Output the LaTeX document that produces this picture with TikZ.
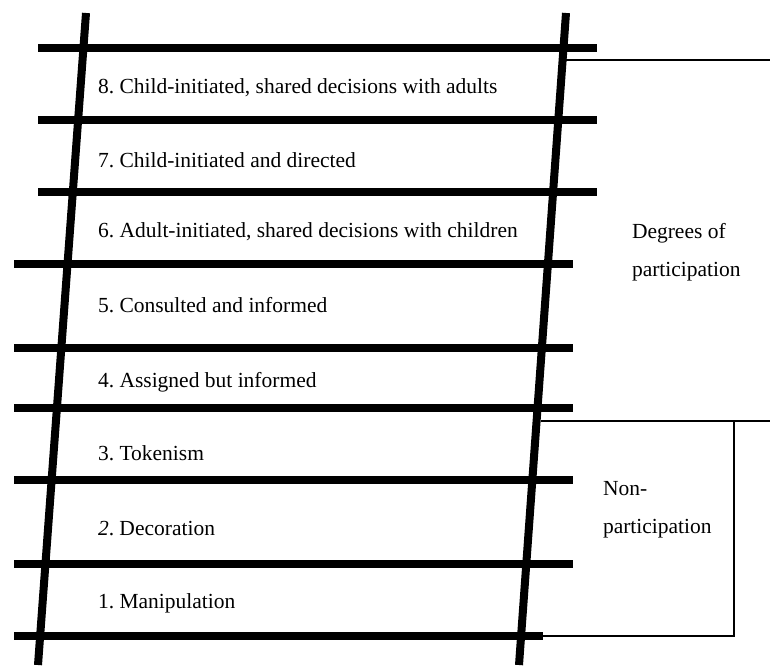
\documentclass[tikz,border=0pt]{standalone}
\usepackage{fontspec}
\setmainfont{Liberation Serif}
\usepackage{tikz}
\usetikzlibrary{positioning}
\frenchspacing
\tikzstyle{rail}=[line width=8pt]
\tikzstyle{rung}=[line width=8.5pt]
\tikzstyle{bracket}=[line width=1.2pt]
\tikzstyle{level}=[anchor=base west, inner sep=0, outer sep=0]

\begin{document}
\begin{tikzpicture}[x=1pt,y=-1pt,font=\fontsize{21.5}{38}\selectfont]
        \useasboundingbox (0,0) rectangle (770,666);
        % rungs
        \draw[rung] (38,48) -- (597,48);
        \draw[rung] (38,120) -- (597,120);
        \draw[rung] (38,192) -- (597,192);
        \draw[rung] (14,264) -- (573,264);
        \draw[rung] (14,348) -- (573,348);
        \draw[rung] (14,408) -- (573,408);
        \draw[rung] (14,480) -- (573,480);
        \draw[rung] (14,564) -- (573,564);
        \draw[rung] (14,636) -- (543,636);
        % rails
        \draw[rail] (86,13) -- (38,665);
        \draw[rail] (566,13) -- (519,665);
        % steps
        \node [level] (s8) at (98,94) {8. Child-initiated, shared decisions with adults};
        \node [level] (s7) at (98,167) {7. Child-initiated and directed};
        \node [level] (s6) at (98,237) {6. Adult-initiated, shared decisions with children};
        \node [level] (s5) at (98,312) {5. Consulted and informed};
        \node [level] (s4) at (98,387) {4. Assigned but informed};
        \node [level] (s3) at (98,460) {3. Tokenism};
        \node [level] (s2) at (98,535) {\textit{2}. Decoration};
        \node [level] (s1) at (98,608) {1. Manipulation};
        % groups (base = last line)
        \node [level,align=left] (deg) at (632,276) {Degrees of\\participation};
        \node [level,align=left] (non) at (603,533) {Non-\\participation};
        \coordinate (degin) at (566,60);
        \coordinate (degout) at (770,60);
        \coordinate (nonin) at (541,421);
        \coordinate (nonout) at (770,421);
        \coordinate (nonside) at (734,421);
        \coordinate (nonfoot) at (543,636);
        \draw[bracket] (degin) -- (degout);
        \draw[bracket] (nonin) -- (nonout);
        \draw[bracket] (nonside) |- (nonfoot);
\end{tikzpicture}
\end{document}
